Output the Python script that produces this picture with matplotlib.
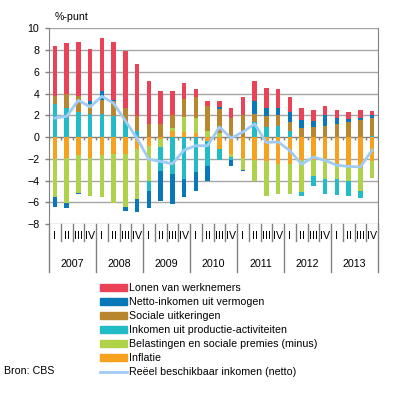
import matplotlib
matplotlib.use("Agg")
import matplotlib.pyplot as plt
from matplotlib.patches import Patch
from matplotlib.lines import Line2D
import matplotlib.transforms as mtransforms
import numpy as np

plt.rcParams['font.family'] = ['Liberation Sans', 'DejaVu Sans']

years = ["2007", "2008", "2009", "2010", "2011", "2012", "2013"]
quarters = ["I", "II", "III", "IV"]

# bijdragen in %-punt per kwartaal, 2007 I t/m 2013 IV
inflatie = [-2.0, -1.91, -1.69, -1.91, -1.69, -1.6, -1.6, -1.12,
            -0.84, -0.2, 0.52, 0.46, 0.37, -0.4, -1.14, -1.54,
            -1.91, -2.15, -2.25, -2.46, -2.46, -2.09, -2.15, -2.2,
            -2.55, -2.6, -2.83, -2.2]
belastingen = [-3.48, -4.18, -3.48, -3.47, -3.79, -4.49, -4.8, -4.57,
               -3.16, -0.72, 0.31, 1.39, 1.38, 0.52, 0.37, -0.31,
               -1.09, -1.85, -3.13, -2.77, -2.77, -2.99, -1.39, -1.7,
               -1.27, -1.4, -2.17, -1.58]
productie = [3.05, 2.68, 2.31, 2.12, 2.12, 1.94, 1.35, 0.52,
             -1.0, -2.25, -3.38, -3.9, -3.23, -2.22, -1.01, -0.3,
             0.0, 1.38, 0.89, 1.0, 0.52, -0.37, -0.92, -1.37,
             -1.5, -1.38, -0.63, 0.1]
uitkeringen = [0.7, 1.26, 1.44, 0.9, 1.3, 1.35, 1.33, 1.42,
               1.2, 1.2, 1.17, 1.63, 1.91, 2.31, 2.18, 1.75,
               2.0, 0.74, 1.05, 1.0, 0.86, 0.83, 0.92, 1.0,
               1.18, 1.36, 1.54, 1.68]
vermogen = [-0.98, -0.46, -0.09, 0.27, 0.8, 0.13, -0.37, -1.17,
            -1.55, -2.73, -2.77, -1.64, -1.69, -1.38, 0.22, -0.47,
            -0.14, 1.17, 0.74, 0.68, 0.93, 0.74, 0.56, 1.0,
            0.6, 0.27, 0.24, 0.22]
lonen = [4.65, 4.71, 4.99, 4.8, 4.89, 5.32, 5.23, 4.77,
         3.94, 3.05, 2.25, 1.47, 0.74, 0.46, 0.52, 0.9,
         1.66, 1.85, 1.81, 1.72, 1.35, 1.11, 1.01, 0.85,
         0.7, 0.65, 0.68, 0.37]
reeel = [1.75, 1.9, 3.38, 2.77, 3.75, 3.1, 1.5, -0.15,
         -2.05, -2.25, -2.46, -1.2, -0.8, -0.8, 0.92, -0.1,
         0.46, 1.2, -0.5, -0.45, -1.25, -2.5, -1.85, -2.15,
         -2.6, -2.7, -2.75, -1.2]

series = [
    ("Inflatie", inflatie, "#f7a21e"),
    ("Belastingen en sociale premies (minus)", belastingen, "#aed34a"),
    ("Inkomen uit productie-activiteiten", productie, "#22bcc6"),
    ("Sociale uitkeringen", uitkeringen, "#b8862f"),
    ("Netto-inkomen uit vermogen", vermogen, "#0878b8"),
    ("Lonen van werknemers", lonen, "#ea4257"),
]
line_color = "#9fccf7"
grid_color = "#a6a6a6"

fig = plt.figure(figsize=(3.96, 3.93), dpi=100)
ax = fig.add_axes([49/396, 1-224/393, 329/396, (224-28.3)/393])

n = len(lonen)
x = np.arange(n)
pos = np.zeros(n)
neg = np.zeros(n)
for name, vals, col in series:
    v = np.array(vals)
    bottom = np.where(v >= 0, pos, neg)
    ax.bar(x, v, bottom=bottom, width=0.4, color=col, linewidth=0, zorder=3)
    pos = pos + np.clip(v, 0, None)
    neg = neg + np.clip(v, None, 0)

ax.plot(x, reeel, color=line_color, lw=2, zorder=4)

ax.set_xlim(-0.5, n-0.5)
ax.set_ylim(-8, 10)
ax.set_yticks(range(-8, 11, 2))
ax.tick_params(axis='y', length=3, width=1, color="#808080", labelsize=7.7, pad=4)
ax.set_xticks([])
for y in range(-8, 11, 2):
    if y != 0:
        ax.axhline(y, color=grid_color, lw=1, zorder=1)
ax.axhline(0, color="#808080", lw=1, zorder=2)
# kleine streepjes op de nullijn
ax.vlines(np.arange(n+1)-0.5, -0.3, 0, color="#808080", lw=1, zorder=2)
for s in ["top", "bottom"]:
    ax.spines[s].set_visible(False)
for s in ["left", "right"]:
    ax.spines[s].set_color("#808080")

# categorie-as onderaan
trans = mtransforms.blended_transform_factory(ax.transData, fig.transFigure)
def fy(py):
    return 1 - py/393
for i in range(n+1):
    bot = 272 if i % 4 == 0 else 241
    ax.plot([i-0.5, i-0.5], [fy(224), fy(bot)], color="#808080", lw=1,
            transform=trans, clip_on=False)
for i in range(n):
    ax.text(i, fy(236), quarters[i % 4], ha="center", va="center",
            fontsize=7.7, transform=trans)
for k, yr in enumerate(years):
    ax.text(4*k+1.5, fy(264), yr, ha="center", va="center",
            fontsize=7.7, transform=trans)

fig.text(55/396, fy(17.5), "%-punt", ha="left", va="center", fontsize=7.7)
fig.text(4/396, fy(371), "Bron: CBS", ha="left", va="center", fontsize=7.7)

handles = [Patch(color=col) for _, _, col in series[::-1]]
labels = [name for name, _, _ in series[::-1]]
handles.append(Line2D([0], [0], color=line_color, lw=2))
labels.append("Reëel beschikbaar inkomen (netto)")
fig.legend(handles, labels, loc="upper left",
           bbox_to_anchor=(100/396, fy(283)), frameon=False, fontsize=7.7,
           handlelength=2.5, handleheight=0.7, labelspacing=0.38,
           handletextpad=0.2, borderpad=0, borderaxespad=0)

fig.savefig("out.png", dpi=100)
